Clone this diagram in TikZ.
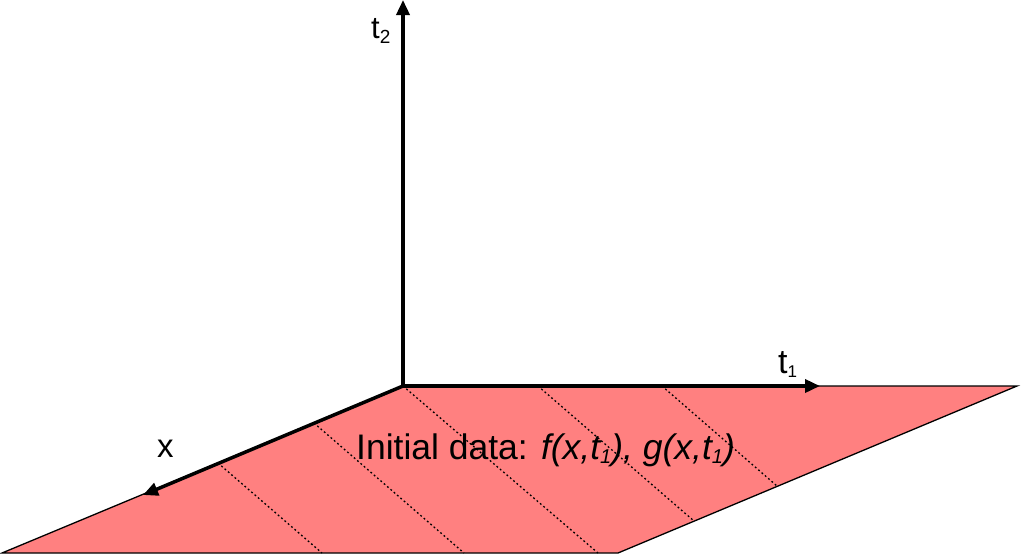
\documentclass[tikz,border=0pt]{standalone}
\usepackage{fontspec}
\setmainfont{Liberation Sans}
\usetikzlibrary{arrows.meta}
\definecolor{plane}{RGB}{255,128,128}
\newcommand\lowidx[3]{\raisebox{-#2pt}{\fontsize{#1}{#1}\selectfont #3}}
\begin{document}
\begin{tikzpicture}[x=1pt,y=-1pt,
  axis/.style={line width=3.5pt,-{Triangle[length=15pt,width=13pt]}},
  guide/.style={line width=1.3pt,dash pattern=on 1.8pt off 2.6pt},
  edge/.style={line width=1.3pt},
  lbl/.style={inner sep=0pt,anchor=base west}]
\useasboundingbox (0,0) rectangle (1024,557);
% plane corners
\coordinate (O) at (403,386);
\coordinate (TR) at (1017,386);
\coordinate (BR) at (618,553);
\coordinate (BL) at (2,553);
\fill[plane] (O) -- (TR) -- (BR) -- (BL) -- cycle;
% guide line ends
\coordinate (g1a) at (218,463);
\coordinate (g1b) at (322,553);
\coordinate (g2a) at (314,423);
\coordinate (g2b) at (464,553);
\coordinate (g3b) at (598,553);
\coordinate (g4a) at (538,386);
\coordinate (g4b) at (694,521);
\coordinate (g5a) at (662,386);
\coordinate (g5b) at (777,486);
\draw[guide] (g1a) -- (g1b);
\draw[guide] (g2a) -- (g2b);
\draw[guide] (O) -- (g3b);
\draw[guide] (g4a) -- (g4b);
\draw[guide] (g5a) -- (g5b);
\draw[edge] (O) -- (TR) -- (BR) -- (BL) -- cycle;
% axes
\coordinate (O2) at (403,387.7);
\coordinate (T2) at (403,0);
\coordinate (O1) at (401.3,386);
\coordinate (T1) at (820,386);
\coordinate (X) at (143,495);
\draw[axis] (O2) -- (T2);
\draw[axis] (O1) -- (T1);
\draw[axis] (O) -- (X);
% labels
\node[lbl,font=\fontsize{31}{36}\selectfont] (lt2) at (371,38) {t\lowidx{19}{5}{2}};
\node[lbl,font=\fontsize{34}{40}\selectfont] (lt1) at (778,373) {t\lowidx{17}{4}{1}};
\node[lbl,font=\fontsize{33}{38}\selectfont] (lx) at (157,457) {x};
\node[lbl,font=\fontsize{35.5}{42}\selectfont] (data) at (356,459)
  {Initial data: \textit{f(x,t\lowidx{20}{4}{1}), g(x,t\lowidx{20}{4}{1})}};
\end{tikzpicture}
\end{document}
